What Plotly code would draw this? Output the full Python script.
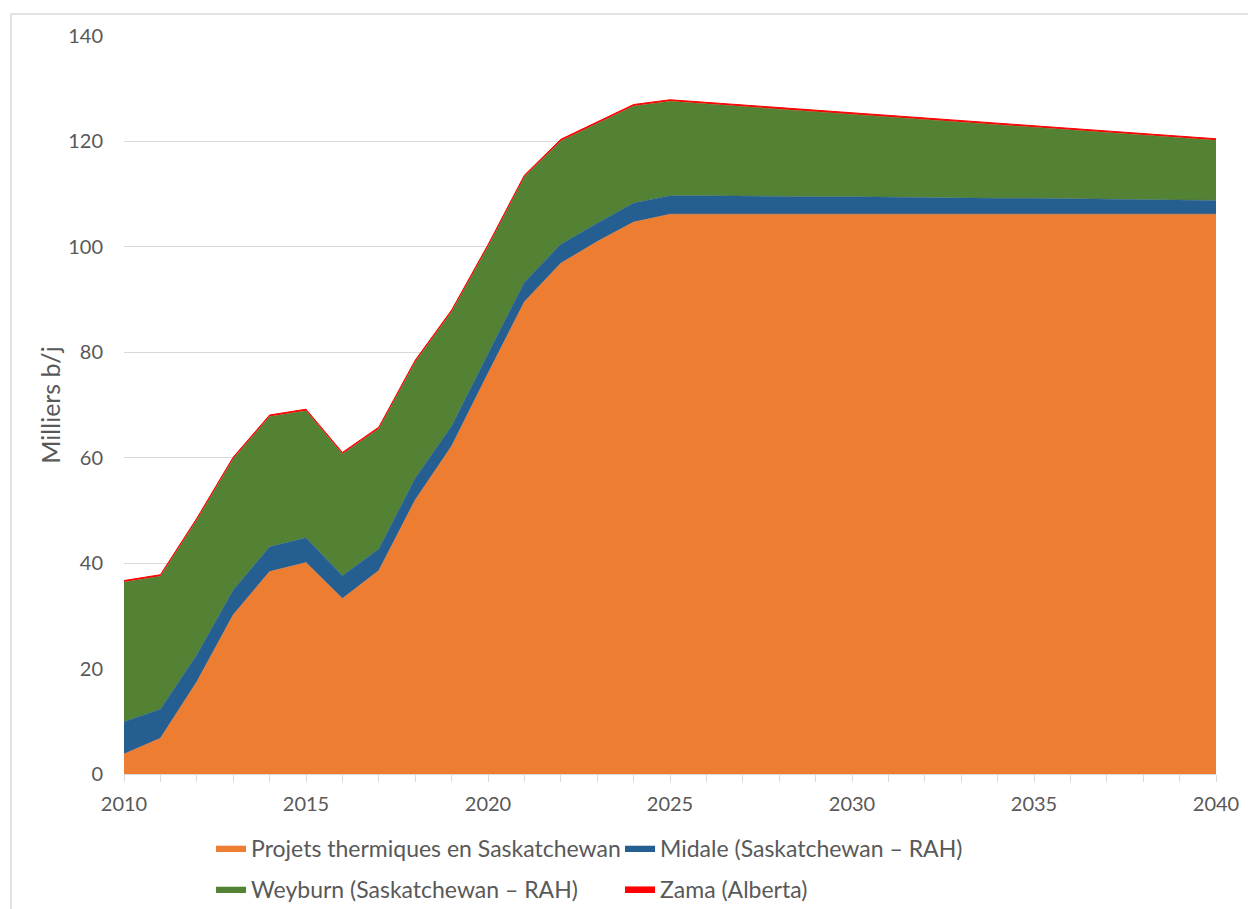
import plotly.graph_objects as go

annees = list(range(2010, 2041))

thermiques = [3.8, 6.8, 17.5, 30.2, 38.4, 40.1, 33.3, 38.6, 52.0, 62.2,
              76.0, 89.6, 96.9, 101.0, 104.7, 106.2, 106.2, 106.2, 106.2, 106.2,
              106.2, 106.2, 106.2, 106.2, 106.2, 106.2, 106.2, 106.2, 106.2, 106.2,
              106.2]
midale = [6.1, 5.5, 5.1, 4.7, 4.7, 4.7, 4.3, 4.1, 4.1, 3.8,
          3.7, 3.7, 3.6, 3.5, 3.6, 3.5, 3.5, 3.4, 3.4, 3.3,
          3.3, 3.2, 3.2, 3.1, 3.0, 3.0, 2.9, 2.9, 2.8, 2.7,
          2.6]
weyburn = [26.5, 25.2, 25.6, 24.9, 24.7, 24.1, 23.1, 22.8, 22.1, 21.7,
           20.4, 20.0, 19.6, 18.9, 18.4, 17.9, 17.4, 17.0, 16.5, 16.1,
           15.6, 15.2, 14.7, 14.4, 14.0, 13.5, 13.1, 12.6, 12.2, 11.8,
           11.4]
zama = [0.3] * 31

# (nom, valeurs, couleur, legende)
series = [
    ("Projets thermiques en Saskatchewan", thermiques, "#ED7D31", "legend"),
    ("Midale (Saskatchewan – RAH)", midale, "#255E91", "legend"),
    ("Weyburn (Saskatchewan – RAH)", weyburn, "#548235", "legend2"),
    ("Zama (Alberta)", zama, "#FF0000", "legend2"),
]

police = "Lato"
gris = "#595959"

fig = go.Figure()
for nom, valeurs, couleur, leg in series:
    fig.add_trace(go.Scatter(
        x=annees, y=valeurs, name=nom, stackgroup="un", mode="lines",
        line=dict(color=couleur, width=1 if nom.startswith("Zama") else 0.5),
        fillcolor=couleur, legend=leg,
    ))

# legendes en coordonnees "container" pour ne pas pousser les marges
leg_commun = dict(orientation="h", x=0.0797, xanchor="left", yanchor="middle",
                  yref="container", entrywidth=364, traceorder="normal",
                  font=dict(size=23, color=gris), itemwidth=30, bgcolor="rgba(0,0,0,0)")

fig.update_layout(
    width=1248, height=909,
    margin=dict(l=124, r=32, t=36, b=135),
    plot_bgcolor="white", paper_bgcolor="white",
    font=dict(family=police, size=19, color=gris),
    showlegend=True,
    legend=dict(leg_commun, y=0.0671),
    legend2=dict(leg_commun, y=0.0220),
    xaxis=dict(range=[2010, 2040], tickvals=[2010, 2015, 2020, 2025, 2030, 2035, 2040],
               showgrid=False, showline=True, linecolor="#d9d9d9", linewidth=1,
               ticks="outside", ticklen=7, tickcolor="#d9d9d9", automargin=False,
               minor=dict(dtick=1, ticks="outside", ticklen=7, tickcolor="#d9d9d9", showgrid=False),
               tickfont=dict(size=20, color=gris), ticklabelstandoff=5),
    yaxis=dict(range=[0, 140], dtick=20, showgrid=True, gridcolor="#d9d9d9", gridwidth=1,
               zeroline=False, ticks="", tickfont=dict(size=20, color=gris), ticklabelstandoff=20,
               automargin=False,
               title=dict(text="Milliers b/j", font=dict(size=25, color=gris), standoff=0)),
    shapes=[dict(type="rect", xref="paper", yref="paper", x0=-0.1035, x1=1.2,
                 y0=-0.3, y1=1.0298, line=dict(color="#d9d9d9", width=1.5), layer="below")],
)

fig.write_html("out.html", config={"displayModeBar": False},
               post_script="document.body.style.margin='0';document.body.style.overflow='hidden';")
